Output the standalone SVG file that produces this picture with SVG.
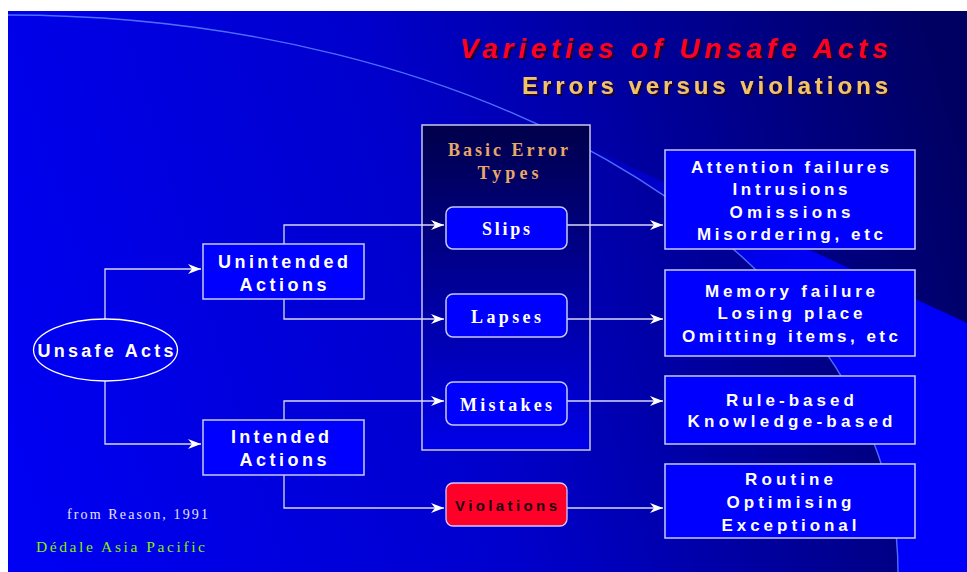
<svg xmlns="http://www.w3.org/2000/svg" width="967" height="572" viewBox="0 0 967 572">
<defs>
<linearGradient id="bg" gradientUnits="userSpaceOnUse" x1="8" y1="420" x2="967" y2="140">
<stop offset="0" stop-color="#0000f2"/>
<stop offset="0.45" stop-color="#0000cc"/>
<stop offset="1" stop-color="#000062"/>
</linearGradient>
<linearGradient id="wedge" gradientUnits="userSpaceOnUse" x1="590" y1="150" x2="780" y2="320">
<stop offset="0" stop-color="#0000b8"/>
<stop offset="1" stop-color="#0000fa"/>
</linearGradient>
<linearGradient id="bet" x1="0" y1="0" x2="0" y2="1">
<stop offset="0" stop-color="#00004a"/>
<stop offset="1" stop-color="#0000e8"/>
</linearGradient>
<filter id="shadow" x="-5%" y="-20%" width="110%" height="150%">
<feDropShadow dx="2" dy="2" stdDeviation="0" flood-color="#1a0030" flood-opacity="1"/>
</filter>
<clipPath id="slide"><rect x="8" y="11" width="959" height="561"/></clipPath>
<marker id="arr" markerUnits="userSpaceOnUse" markerWidth="14" markerHeight="10" refX="13" refY="5" orient="auto">
<path d="M0,0 L13,5 L0,10 L4,5 Z" fill="#ffffff"/>
</marker>
<style>
.box{fill:#0000ff;stroke:#c8c8ff;stroke-width:1.5}
.rbox{fill:#0000ff;stroke:#c8c8ff;stroke-width:1.5}
.sans{font-family:"Liberation Sans",Arial,sans-serif;font-weight:bold;fill:#ffffff;text-anchor:middle}
.serif{font-family:"Liberation Serif","Times New Roman",serif;font-weight:bold;fill:#ffffff;text-anchor:middle}
.conn{fill:none;stroke:#d8d8f4;stroke-width:1.3}
</style>
</defs>
<rect x="0" y="0" width="967" height="572" fill="#ffffff"/>
<g clip-path="url(#slide)">
<rect x="8" y="11" width="959" height="561" fill="url(#bg)"/>
<path d="M590,148 L967,323 L967,572 L590,572 Z" fill="url(#wedge)"/>
<ellipse cx="8" cy="572" rx="890" ry="557" fill="url(#bg)"/>
<ellipse cx="8" cy="572" rx="890" ry="557" fill="none" stroke="#4f6cff" stroke-width="1.4"/>
</g>
<g id="title" filter="url(#shadow)">
<text x="460" y="58" textLength="428" lengthAdjust="spacing" font-family="Liberation Sans, Arial, sans-serif" font-weight="bold" font-style="italic" font-size="28" fill="#ff0022">Varieties of Unsafe Acts</text>
<text x="522" y="94" textLength="366" lengthAdjust="spacing" font-family="Liberation Sans, Arial, sans-serif" font-weight="bold" font-size="24" fill="#f2c266">Errors versus violations</text>
</g>
<g id="basic-error-types">
<rect x="422" y="125" width="168" height="325" fill="url(#bet)" stroke="#c8c8e8" stroke-width="1.5"/>
<text class="serif" x="508" y="156" font-size="18" textLength="120" lengthAdjust="spacing" style="fill:#e8a866">Basic Error</text>
<text class="serif" x="508" y="179" font-size="18" textLength="61" lengthAdjust="spacing" style="fill:#e8a866">Types</text>
</g>
<g id="connectors">
<polyline class="conn" points="105,319 105,269 201,269" marker-end="url(#arr)"/>
<polyline class="conn" points="105,381 105,444 201,444" marker-end="url(#arr)"/>
<polyline class="conn" points="284,244 284,225 444,225" marker-end="url(#arr)"/>
<polyline class="conn" points="284,299 284,319 444,319" marker-end="url(#arr)"/>
<polyline class="conn" points="284,420 284,401 444,401" marker-end="url(#arr)"/>
<polyline class="conn" points="284,475 284,508 444,508" marker-end="url(#arr)"/>
<polyline class="conn" points="567,225 663,225" marker-end="url(#arr)"/>
<polyline class="conn" points="567,319 663,319" marker-end="url(#arr)"/>
<polyline class="conn" points="567,401 663,401" marker-end="url(#arr)"/>
<polyline class="conn" points="567,508 663,508" marker-end="url(#arr)"/>
</g>
<g id="unsafe-acts">
<ellipse cx="105.5" cy="350" rx="72" ry="31" fill="#0000f0" stroke="#ffffff" stroke-width="1.3"/>
<text class="sans" x="105.5" y="357" font-size="18" textLength="136" lengthAdjust="spacing">Unsafe Acts</text>
</g>
<g id="unintended-actions">
<rect class="box" x="203" y="244" width="161" height="55"/>
<text class="sans" x="283" y="268" font-size="18" textLength="130" lengthAdjust="spacing">Unintended</text>
<text class="sans" x="283" y="291" font-size="18" textLength="87" lengthAdjust="spacing">Actions</text>
</g>
<g id="intended-actions">
<rect class="box" x="203" y="420" width="161" height="55"/>
<text class="sans" x="280" y="443" font-size="18" textLength="98" lengthAdjust="spacing">Intended</text>
<text class="sans" x="283" y="466" font-size="18" textLength="87" lengthAdjust="spacing">Actions</text>
</g>
<g id="slips">
<rect class="box" x="446" y="207" width="121" height="42" rx="7"/>
<text class="serif" x="506" y="235" font-size="18" textLength="48" lengthAdjust="spacing">Slips</text>
</g>
<g id="lapses">
<rect class="box" x="446" y="294" width="121" height="43" rx="7"/>
<text class="serif" x="506" y="323" font-size="18" textLength="70" lengthAdjust="spacing">Lapses</text>
</g>
<g id="mistakes">
<rect class="box" x="446" y="382" width="121" height="43" rx="7"/>
<text class="serif" x="506" y="411" font-size="18" textLength="92" lengthAdjust="spacing">Mistakes</text>
</g>
<g id="violations">
<rect x="446" y="483" width="121" height="43" rx="7" fill="#ff0028" stroke="#d0c8ff" stroke-width="1.3"/>
<text class="sans" x="506" y="511" font-size="15" textLength="102" lengthAdjust="spacing" style="fill:#1a0010">Violations</text>
</g>
<g id="attention-failures">
<rect class="rbox" x="665" y="150" width="250" height="99"/>
<text class="sans" x="790" y="173" font-size="17" textLength="198" lengthAdjust="spacing">Attention failures</text>
<text class="sans" x="790" y="195" font-size="17" textLength="115" lengthAdjust="spacing">Intrusions</text>
<text class="sans" x="790" y="218" font-size="17" textLength="121" lengthAdjust="spacing">Omissions</text>
<text class="sans" x="790" y="240" font-size="17" textLength="186" lengthAdjust="spacing">Misordering, etc</text>
</g>
<g id="memory-failure">
<rect class="rbox" x="665" y="270" width="250" height="86"/>
<text class="sans" x="790" y="297" font-size="17" textLength="170" lengthAdjust="spacing">Memory failure</text>
<text class="sans" x="790" y="319" font-size="17" textLength="145" lengthAdjust="spacing">Losing place</text>
<text class="sans" x="790" y="342" font-size="17" textLength="216" lengthAdjust="spacing">Omitting items, etc</text>
</g>
<g id="rule-based">
<rect class="rbox" x="665" y="376" width="250" height="68"/>
<text class="sans" x="790" y="406" font-size="17" textLength="128" lengthAdjust="spacing">Rule-based</text>
<text class="sans" x="790" y="427" font-size="17" textLength="205" lengthAdjust="spacing">Knowledge-based</text>
</g>
<g id="routine">
<rect class="rbox" x="665" y="464" width="250" height="74"/>
<text class="sans" x="789" y="485" font-size="17" textLength="88" lengthAdjust="spacing">Routine</text>
<text class="sans" x="789" y="508" font-size="17" textLength="125" lengthAdjust="spacing">Optimising</text>
<text class="sans" x="789" y="531" font-size="17" textLength="135" lengthAdjust="spacing">Exceptional</text>
</g>
<g id="footer">
<text x="67" y="519" textLength="141" lengthAdjust="spacing" font-family="Liberation Serif, Times New Roman, serif" font-size="14" fill="#e4e4ff">from Reason, 1991</text>
<text x="36" y="552" textLength="169" lengthAdjust="spacing" font-family="Liberation Serif, Times New Roman, serif" font-size="15.5" fill="#88ee00">Dédale Asia Pacific</text>
</g>
</svg>
